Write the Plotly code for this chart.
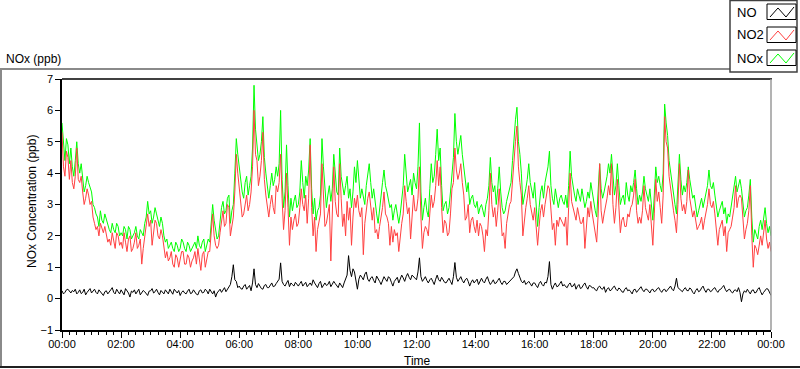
import plotly.graph_objects as go

# ---- data (3-minute steps, hours 0..24) ----
HOURS = [i / 20 for i in range(481)]

NOX = [
    5.6, 4.8, 4.4, 5.1, 4.9, 4.3, 4.8, 4.2, 3.9, 4.4, 5.0, 4.3, 4.0, 4.3, 3.8, 3.4, 3.6, 3.9, 3.7, 3.5,
    3.4, 3.0, 2.9, 2.7, 2.6, 2.3, 2.8, 2.5, 2.4, 2.7, 2.5, 2.3, 2.2, 2.1, 2.4, 2.2, 2.1, 2.4, 2.3, 2.0,
    2.1, 2.0, 2.3, 2.2, 1.9, 2.3, 2.2, 1.9, 2.0, 2.1, 2.3, 2.0, 1.9, 2.2, 2.1, 2.0, 2.4, 2.6, 3.1, 2.7,
    2.8, 2.4, 2.6, 2.9, 2.7, 2.5, 2.3, 2.6, 2.4, 2.0, 1.8, 1.9, 1.6, 1.7, 1.8, 1.6, 1.5, 1.8, 1.7, 1.5,
    1.6, 1.9, 1.8, 1.6, 1.5, 1.8, 1.7, 1.5, 1.6, 1.7, 1.8, 1.6, 2.0, 1.7, 1.6, 1.8, 1.9, 1.5, 1.7, 1.9,
    1.8, 2.6, 3.0, 2.5, 2.1, 1.9, 2.0, 2.5, 2.9, 3.1, 2.7, 2.8, 3.2, 3.3, 2.4, 2.8, 3.0, 4.0, 5.1, 4.6,
    4.2, 3.6, 3.4, 3.2, 3.7, 3.9, 3.3, 3.6, 3.9, 4.8, 6.8, 5.4, 5.0, 4.4, 4.6, 5.0, 5.8, 4.5, 4.0, 3.5,
    3.2, 3.6, 4.0, 3.6, 3.8, 4.2, 3.9, 4.3, 6.0, 3.8, 2.9, 3.4, 4.9, 3.6, 2.6, 3.2, 2.8, 3.1, 3.3, 2.9,
    3.0, 3.4, 4.4, 3.7, 3.2, 3.9, 3.6, 4.1, 5.1, 3.5, 2.7, 3.2, 2.5, 2.8, 2.9, 3.3, 5.1, 4.2, 3.5, 2.9,
    3.3, 3.6, 3.1, 3.5, 4.6, 3.8, 3.4, 3.3, 4.8, 3.9, 3.5, 3.3, 3.6, 3.9, 3.2, 3.5, 2.9, 3.4, 4.2, 3.7,
    4.4, 3.6, 3.2, 3.5, 3.3, 3.0, 3.6, 3.9, 4.3, 3.7, 3.2, 3.5, 3.0, 2.7, 2.4, 2.9, 3.3, 3.7, 4.1, 3.6,
    3.4, 3.1, 2.9, 3.0, 2.5, 2.8, 3.0, 2.7, 2.4, 2.7, 3.1, 3.6, 4.6, 3.8, 3.4, 3.6, 3.8, 3.3, 4.0, 3.7,
    3.5, 4.2, 5.6, 3.4, 2.5, 2.9, 3.2, 2.8, 2.6, 3.5, 4.3, 3.7, 3.9, 4.6, 5.4, 4.4, 4.8, 3.6, 2.8, 3.0,
    3.1, 2.7, 2.9, 3.4, 4.0, 4.5, 5.9, 5.0, 4.6, 4.9, 5.2, 4.6, 4.2, 3.8, 3.4, 3.7, 3.0, 3.2, 3.3, 3.0,
    2.9, 3.1, 2.7, 2.9, 3.0, 2.8, 2.6, 3.0, 3.2, 3.6, 4.5, 3.7, 3.4, 3.6, 3.0, 3.5, 4.2, 3.4, 2.9, 2.7,
    2.8, 3.1, 3.3, 3.6, 3.7, 4.4, 5.2, 5.7, 6.1, 5.0, 4.6, 4.0, 3.0, 3.2, 3.5, 3.8, 4.3, 3.7, 3.5, 3.2,
    3.7, 3.0, 2.3, 2.9, 3.4, 3.6, 3.2, 3.7, 4.0, 4.2, 4.7, 3.6, 3.2, 3.0, 3.5, 3.1, 2.9, 3.2, 3.3, 3.1,
    3.0, 3.3, 2.9, 3.6, 4.7, 3.9, 3.5, 3.3, 3.1, 3.5, 3.3, 3.1, 3.5, 3.2, 2.9, 3.1, 3.4, 3.2, 3.7, 3.4,
    3.0, 2.8, 2.6, 3.4, 4.3, 3.5, 3.2, 3.4, 3.6, 3.9, 4.3, 4.0, 4.6, 3.8, 3.3, 3.6, 4.3, 3.6, 3.0, 3.2,
    3.3, 3.0, 3.7, 3.3, 3.1, 3.6, 3.4, 3.7, 4.1, 3.5, 3.0, 3.3, 3.1, 3.4, 3.9, 3.5, 3.3, 3.1, 3.5, 3.0,
    2.5, 3.3, 4.2, 3.7, 3.9, 3.6, 3.4, 4.0, 6.2, 5.6, 5.2, 4.4, 4.0, 3.6, 3.3, 3.0, 2.7, 3.5, 4.6, 3.8,
    3.3, 3.6, 3.4, 3.7, 4.2, 3.8, 3.5, 3.2, 3.3, 2.9, 2.6, 2.8, 3.0, 3.2, 2.9, 3.1, 3.3, 3.6, 4.1, 3.6,
    3.5, 3.7, 3.3, 2.9, 2.6, 2.8, 3.0, 3.1, 2.7, 2.9, 2.4, 2.7, 2.6, 2.9, 3.2, 3.5, 3.9, 3.4, 3.6, 3.8,
    3.5, 2.9, 2.6, 2.8, 2.9, 3.3, 3.8, 2.6, 1.8, 2.2, 2.0, 1.9, 2.3, 2.5, 2.2, 2.6, 2.9, 2.4, 2.1, 2.3,
    2.0,
]

NO2 = [
    5.3, 4.2, 3.9, 4.7, 4.5, 3.8, 4.4, 3.7, 3.5, 3.9, 4.8, 3.8, 3.7, 3.9, 3.4, 3.0, 3.2, 3.5, 3.3, 3.0,
    3.1, 2.6, 2.4, 2.2, 2.3, 2.0, 2.4, 2.2, 2.1, 2.3, 2.0, 1.8, 1.9, 1.7, 2.1, 1.8, 1.6, 2.1, 2.0, 1.7,
    1.8, 1.6, 2.1, 1.8, 1.5, 1.9, 2.0, 1.5, 1.6, 1.8, 2.1, 1.6, 1.7, 1.9, 1.1, 1.6, 2.0, 2.2, 2.7, 2.3,
    2.5, 1.7, 2.1, 2.5, 2.4, 2.0, 1.9, 2.2, 2.0, 1.6, 1.3, 1.5, 1.2, 1.3, 1.5, 1.1, 1.0, 1.4, 1.3, 1.0,
    1.2, 1.5, 1.5, 1.1, 1.1, 1.4, 1.3, 1.0, 1.2, 1.3, 1.5, 1.1, 1.6, 1.3, 0.9, 1.4, 1.5, 1.0, 1.2, 1.5,
    1.5, 2.2, 2.7, 2.0, 1.7, 1.6, 1.7, 2.1, 2.5, 2.8, 2.3, 2.4, 3.0, 2.9, 2.0, 2.4, 2.6, 3.4, 4.6, 4.0,
    3.6, 3.0, 2.6, 2.7, 3.0, 3.3, 2.8, 3.0, 3.4, 4.2, 6.0, 4.6, 4.4, 3.6, 3.9, 4.4, 5.3, 3.8, 3.3, 2.9,
    2.6, 3.0, 3.3, 2.9, 2.7, 3.6, 3.4, 3.7, 4.6, 3.2, 2.2, 2.8, 4.0, 2.9, 1.7, 2.6, 2.2, 2.5, 2.7, 2.3,
    2.4, 2.9, 3.5, 3.0, 2.8, 3.3, 2.4, 3.2, 4.9, 2.9, 2.0, 2.6, 1.5, 2.2, 2.4, 2.7, 4.3, 3.5, 2.3, 2.4,
    2.8, 3.0, 1.2, 2.8, 4.2, 3.1, 2.7, 2.6, 4.3, 3.2, 2.3, 2.7, 2.0, 3.1, 2.5, 2.9, 1.7, 2.6, 3.2, 2.9,
    3.3, 2.8, 2.6, 2.9, 1.4, 2.4, 2.9, 3.2, 3.4, 2.8, 2.5, 2.9, 2.1, 2.2, 1.9, 2.3, 2.6, 2.9, 3.4, 2.7,
    2.6, 2.4, 1.7, 2.3, 1.8, 2.2, 2.0, 2.1, 1.5, 2.0, 2.4, 2.7, 3.6, 3.1, 2.7, 2.9, 1.9, 2.6, 3.3, 2.8,
    2.8, 3.2, 4.2, 2.6, 1.6, 2.1, 2.3, 2.2, 2.0, 2.7, 3.3, 2.9, 3.1, 3.6, 4.4, 3.6, 4.2, 2.9, 2.1, 2.5,
    2.4, 2.0, 2.1, 2.7, 3.5, 3.7, 4.8, 4.1, 3.8, 4.0, 4.3, 3.7, 3.3, 2.5, 2.6, 3.0, 2.1, 2.5, 2.6, 2.3,
    2.1, 2.5, 2.0, 2.4, 2.3, 2.0, 1.5, 2.2, 2.0, 2.8, 4.0, 3.0, 2.6, 2.9, 2.3, 2.8, 3.5, 2.7, 2.0, 2.1,
    1.6, 2.4, 2.7, 3.0, 3.1, 3.8, 4.6, 5.0, 5.5, 4.2, 3.7, 3.3, 2.0, 2.5, 2.9, 3.2, 3.6, 3.0, 2.7, 2.5,
    2.9, 2.4, 1.7, 2.3, 2.8, 3.0, 2.6, 3.0, 3.3, 3.6, 3.5, 2.8, 2.2, 2.4, 1.7, 2.5, 2.3, 2.6, 2.5, 2.4,
    2.3, 2.6, 1.7, 2.9, 4.0, 3.1, 2.9, 2.6, 2.5, 2.9, 2.7, 2.4, 2.4, 2.6, 1.6, 2.4, 2.9, 2.6, 3.1, 2.7,
    2.4, 2.1, 1.8, 2.7, 4.3, 2.8, 2.4, 2.7, 2.9, 3.2, 3.6, 3.3, 4.3, 3.0, 2.4, 2.9, 3.8, 2.8, 2.1, 2.5,
    2.6, 2.3, 2.3, 2.7, 2.6, 2.9, 3.0, 3.3, 3.8, 2.8, 2.4, 2.6, 2.4, 2.8, 3.6, 2.9, 2.7, 2.5, 3.0, 2.4,
    1.7, 2.7, 3.8, 3.1, 3.4, 2.9, 2.4, 3.3, 5.8, 5.0, 4.8, 3.9, 3.5, 3.0, 2.8, 2.5, 2.1, 3.0, 4.3, 3.2,
    2.8, 3.0, 2.7, 3.1, 4.1, 3.2, 2.9, 2.6, 2.8, 2.4, 2.2, 2.3, 2.4, 2.6, 2.2, 2.5, 2.7, 3.0, 3.5, 3.0,
    2.9, 3.1, 2.7, 2.3, 1.7, 2.2, 2.4, 2.5, 2.0, 2.3, 1.5, 2.1, 2.2, 2.3, 2.6, 2.9, 3.6, 2.9, 3.2, 3.3,
    3.2, 2.4, 1.9, 2.2, 2.4, 2.8, 3.6, 2.0, 1.0, 1.7, 1.6, 1.4, 1.8, 2.0, 1.7, 2.1, 2.5, 1.9, 1.6, 1.8,
    1.5,
]

NO = [
    0.25, 0.15, 0.20, 0.28, 0.30, 0.22, 0.18, 0.26, 0.22, 0.30, 0.15, 0.20, 0.28, 0.16, 0.20, 0.30, 0.12, 0.20, 0.25, 0.32,
    0.18, 0.25, 0.30, 0.20, 0.15, 0.28, 0.22, 0.18, 0.10, 0.22, 0.25, 0.15, 0.20, 0.28, 0.35, 0.20, 0.15, 0.30, 0.22, 0.15,
    0.28, 0.20, 0.12, 0.32, 0.25, 0.18, 0.05, 0.24, 0.20, 0.28, 0.15, 0.22, 0.30, 0.12, 0.18, 0.26, 0.22, 0.15, 0.10, 0.24,
    0.25, 0.32, 0.18, 0.22, 0.30, 0.20, 0.12, 0.26, 0.22, 0.15, 0.28, 0.20, 0.15, 0.30, 0.20, 0.14, 0.30, 0.22, 0.18, 0.26,
    0.10, 0.20, 0.25, 0.18, 0.15, 0.24, 0.30, 0.16, 0.18, 0.28, 0.22, 0.14, 0.12, 0.25, 0.28, 0.18, 0.20, 0.30, 0.25, 0.15,
    0.30, 0.20, 0.15, 0.25, 0.05, 0.18, 0.25, 0.30, 0.20, 0.28, 0.35, 0.22, 0.30, 0.38, 0.45, 0.70, 1.08, 0.60, 0.55, 0.35,
    0.40, 0.32, 0.30, 0.40, 0.45, 0.30, 0.35, 0.42, 0.25, 0.50, 0.95, 0.45, 0.35, 0.48, 0.40, 0.32, 0.30, 0.42, 0.45, 0.35,
    0.35, 0.45, 0.50, 0.38, 0.40, 0.48, 0.55, 0.62, 1.14, 0.55, 0.45, 0.40, 0.50, 0.58, 0.38, 0.50, 0.45, 0.40, 0.52, 0.44,
    0.40, 0.48, 0.55, 0.40, 0.45, 0.52, 0.38, 0.46, 0.50, 0.42, 0.60, 0.50, 0.42, 0.35, 0.48, 0.55, 0.35, 0.45, 0.50, 0.42,
    0.45, 0.55, 0.38, 0.46, 0.55, 0.48, 0.40, 0.35, 0.50, 0.42, 0.35, 0.50, 0.60, 0.75, 1.37, 0.90, 0.70, 0.95, 0.85, 0.60,
    0.30, 0.62, 0.75, 0.68, 0.60, 0.78, 0.85, 0.62, 0.55, 0.66, 0.70, 0.58, 0.50, 0.72, 0.65, 0.55, 0.45, 0.60, 0.70, 0.62,
    0.55, 0.70, 0.65, 0.52, 0.40, 0.55, 0.60, 0.68, 0.50, 0.62, 0.75, 0.66, 0.55, 0.70, 0.80, 0.68, 0.60, 0.75, 0.70, 0.62,
    0.60, 0.85, 1.30, 0.70, 0.55, 0.62, 0.70, 0.58, 0.50, 0.60, 0.65, 0.55, 0.45, 0.62, 0.75, 0.60, 0.55, 0.68, 0.60, 0.52,
    0.50, 0.58, 0.65, 0.55, 0.45, 0.70, 1.15, 0.68, 0.55, 0.62, 0.70, 0.58, 0.50, 0.60, 0.65, 0.55, 0.40, 0.52, 0.60, 0.50,
    0.55, 0.62, 0.45, 0.58, 0.65, 0.55, 0.50, 0.62, 0.70, 0.55, 0.45, 0.52, 0.60, 0.48, 0.50, 0.58, 0.65, 0.52, 0.45, 0.55,
    0.55, 0.45, 0.50, 0.58, 0.60, 0.65, 0.70, 0.85, 0.95, 0.80, 0.65, 0.55, 0.50, 0.58, 0.45, 0.52, 0.55, 0.48, 0.40, 0.50,
    0.50, 0.42, 0.35, 0.48, 0.55, 0.45, 0.40, 0.52, 0.50, 0.70, 1.18, 0.45, 0.30, 0.42, 0.50, 0.38, 0.40, 0.48, 0.55, 0.40,
    0.45, 0.38, 0.35, 0.45, 0.50, 0.38, 0.40, 0.48, 0.30, 0.40, 0.45, 0.32, 0.35, 0.44, 0.50, 0.38, 0.30, 0.42, 0.40, 0.34,
    0.35, 0.28, 0.25, 0.36, 0.40, 0.32, 0.30, 0.38, 0.20, 0.30, 0.35, 0.25, 0.28, 0.36, 0.40, 0.30, 0.25, 0.34, 0.30, 0.22,
    0.20, 0.30, 0.35, 0.25, 0.28, 0.22, 0.15, 0.28, 0.30, 0.20, 0.25, 0.32, 0.38, 0.28, 0.22, 0.30, 0.30, 0.24, 0.18, 0.28,
    0.30, 0.22, 0.25, 0.32, 0.35, 0.26, 0.20, 0.28, 0.30, 0.22, 0.28, 0.34, 0.40, 0.30, 0.25, 0.40, 0.65, 0.35, 0.30, 0.24,
    0.22, 0.30, 0.35, 0.26, 0.25, 0.34, 0.30, 0.20, 0.15, 0.26, 0.32, 0.22, 0.25, 0.34, 0.40, 0.28, 0.20, 0.30, 0.30, 0.22,
    0.25, 0.32, 0.35, 0.26, 0.20, 0.28, 0.30, 0.36, 0.42, 0.30, 0.22, 0.28, 0.30, 0.22, 0.18, 0.26, 0.28, 0.22, 0.35, 0.20,
    -0.10, 0.15, 0.25, 0.20, 0.30, 0.22, 0.15, 0.26, 0.28, 0.18, 0.20, 0.30, 0.35, 0.22, 0.12, 0.20, 0.25, 0.32, 0.30, 0.18,
    0.10,
]

X_TICK_VALS = [0, 2, 4, 6, 8, 10, 12, 14, 16, 18, 20, 22, 24]
X_TICK_TEXT = ["00:00", "02:00", "04:00", "06:00", "08:00", "10:00", "12:00",
               "14:00", "16:00", "18:00", "20:00", "22:00", "00:00"]
Y_TICK_VALS = [-1, 0, 1, 2, 3, 4, 5, 6, 7]

SERIES_NAMES = ["NO", "NO2", "NOx"]
SERIES_COLORS = ["#000000", "#ff4040", "#00ff00"]

# ---- layout geometry (pixels) ----
W, H = 800, 369
L, R, T, B = 62, 771, 79, 330


def px(x):
    return (x - L) / (R - L)


def py(y):
    return (B - y) / (B - T)


FONT = "Liberation Sans, Arial, sans-serif"

fig = go.Figure()
fig.add_trace(go.Scatter(x=HOURS, y=NOX, mode="lines", name="NOx",
                         line=dict(color=SERIES_COLORS[2], width=1)))
fig.add_trace(go.Scatter(x=HOURS, y=NO2, mode="lines", name="NO2",
                         line=dict(color=SERIES_COLORS[1], width=1)))
fig.add_trace(go.Scatter(x=HOURS, y=NO, mode="lines", name="NO",
                         line=dict(color=SERIES_COLORS[0], width=1)))

shapes = []
# outer frame
shapes.append(dict(type="line", xref="paper", yref="paper", x0=px(0), x1=px(773), y0=py(69), y1=py(69),
                   line=dict(color="#8a8a8a", width=2)))
shapes.append(dict(type="line", xref="paper", yref="paper", x0=px(1), x1=px(1), y0=py(69), y1=py(367),
                   line=dict(color="#8a8a8a", width=2)))
shapes.append(dict(type="line", xref="paper", yref="paper", x0=px(0), x1=px(800), y0=py(367), y1=py(367),
                   line=dict(color="#202020", width=2)))
# plot borders (top black, right grey)
shapes.append(dict(type="line", xref="paper", yref="paper", x0=px(62), x1=px(772), y0=py(79), y1=py(79),
                   line=dict(color="#000000", width=1.5)))
shapes.append(dict(type="line", xref="paper", yref="paper", x0=px(771), x1=px(771), y0=py(79), y1=py(330),
                   line=dict(color="#9a9a9a", width=1.5)))
# legend box
shapes.append(dict(type="rect", xref="paper", yref="paper", x0=px(730), x1=px(797), y0=py(0.5), y1=py(72),
                   line=dict(color="#404040", width=1.5), fillcolor="white", layer="above"))

annotations = []
row_centers = [12, 35, 58]
for name, color, cy in zip(SERIES_NAMES, SERIES_COLORS, row_centers):
    shapes.append(dict(type="rect", xref="paper", yref="paper", x0=px(767), x1=px(796),
                       y0=py(cy - 8), y1=py(cy + 7.5),
                       line=dict(color="#000000", width=1), fillcolor="white", layer="above"))
    zig = [(770, cy + 5), (778, cy - 4), (786, cy + 5), (794, cy - 5)]
    path = "M " + " L ".join(f"{px(a):.5f},{py(b):.5f}" for a, b in zig)
    shapes.append(dict(type="path", xref="paper", yref="paper", path=path,
                       line=dict(color=color, width=1), layer="above"))
    annotations.append(dict(text=name, xref="paper", yref="paper", x=px(735), y=py(cy),
                            xanchor="left", yanchor="middle", showarrow=False,
                            font=dict(family=FONT, size=13, color="#000000")))

annotations.append(dict(text="NOx (ppb)", xref="paper", yref="paper", x=px(4), y=py(59),
                        xanchor="left", yanchor="middle", showarrow=False,
                        font=dict(family=FONT, size=12, color="#000000")))
annotations.append(dict(text="Time", xref="paper", yref="paper", x=px(417), y=py(361),
                        xanchor="center", yanchor="middle", showarrow=False,
                        font=dict(family=FONT, size=12, color="#000000")))
annotations.append(dict(text="NOx Concentration (ppb)", xref="paper", yref="paper", x=px(32), y=py(202),
                        xanchor="center", yanchor="middle", showarrow=False, textangle=-90,
                        font=dict(family=FONT, size=12, color="#000000")))

fig.update_layout(
    width=W, height=H,
    margin=dict(l=L, r=W - R, t=T, b=H - B, pad=0),
    paper_bgcolor="white", plot_bgcolor="white",
    showlegend=False,
    shapes=shapes, annotations=annotations,
    xaxis=dict(range=[0, 24], tickvals=X_TICK_VALS, ticktext=X_TICK_TEXT,
               showgrid=False, zeroline=False, showline=True, linecolor="#000000", linewidth=1.5,
               ticks="outside", ticklen=6, tickwidth=1, tickcolor="#000000",
               ticklabelstandoff=-3,
               minor=dict(dtick=0.25, ticks="outside", ticklen=3, tickcolor="#000000", showgrid=False),
               tickfont=dict(family=FONT, size=11, color="#000000")),
    yaxis=dict(range=[-1, 7], tickvals=Y_TICK_VALS,
               showgrid=False, zeroline=False, showline=True, linecolor="#000000", linewidth=1.5,
               ticks="outside", ticklen=5, tickwidth=1, tickcolor="#000000",
               tickfont=dict(family=FONT, size=11, color="#000000")),
)

fig.write_html("out.html", config={"displayModeBar": False},
               post_script="document.body.style.margin='0';document.body.style.padding='0';")
